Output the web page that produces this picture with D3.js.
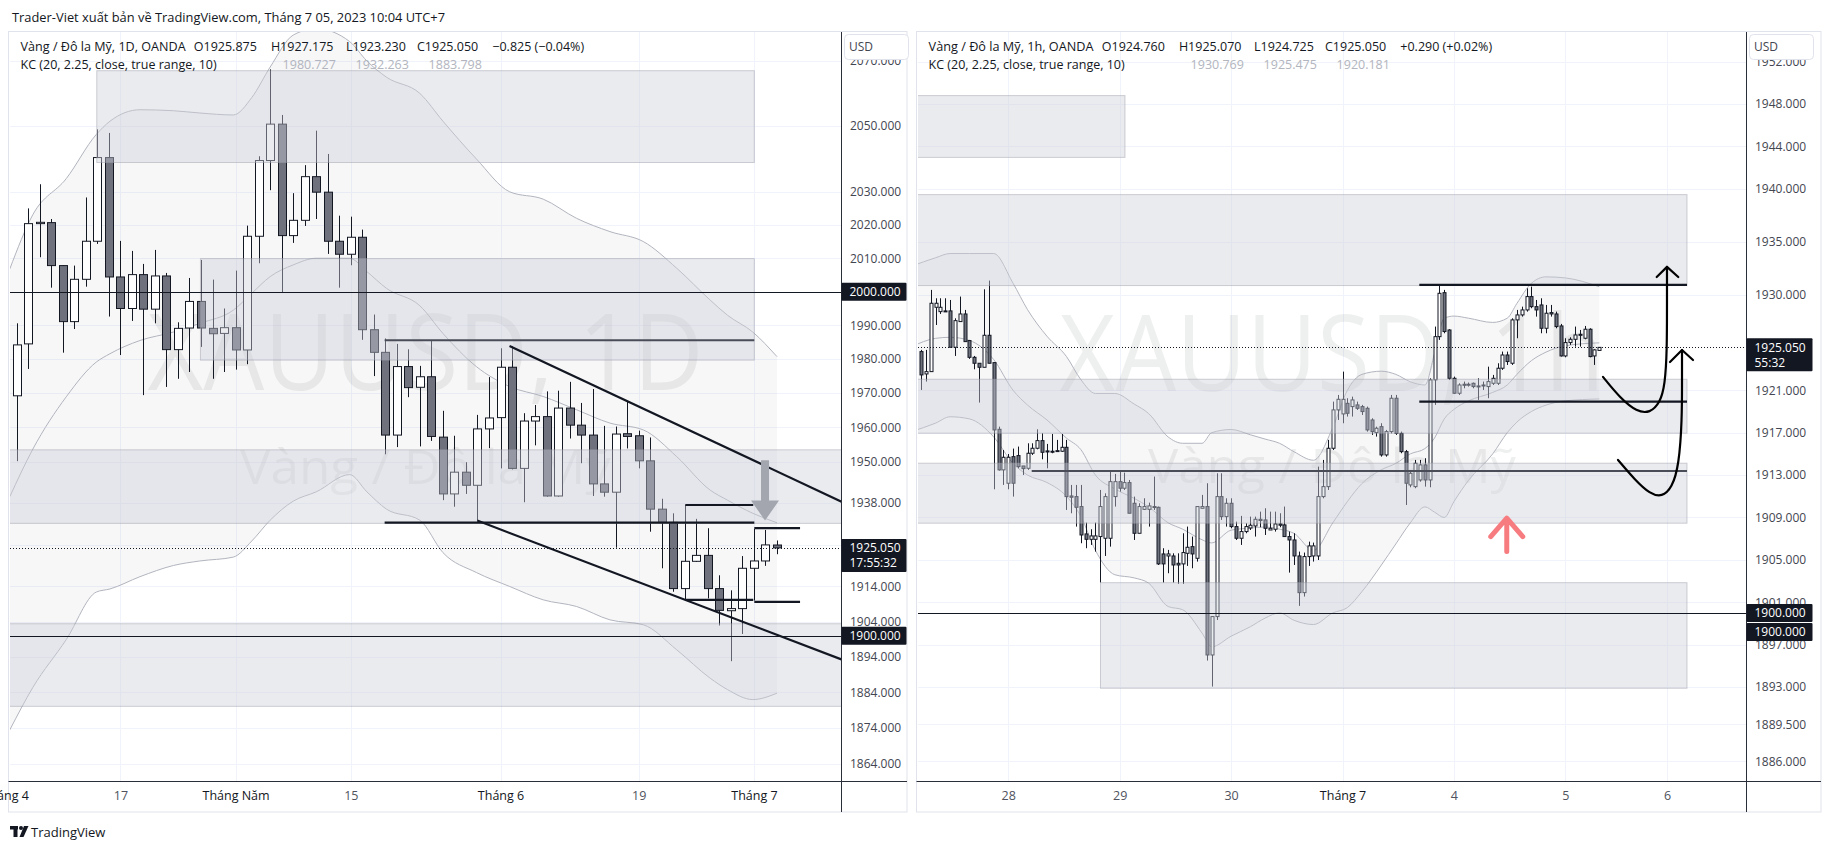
<!DOCTYPE html>
<html><head><meta charset="utf-8"><title>XAUUSD</title>
<script src="https://cdn.jsdelivr.net/npm/d3@7/dist/d3.min.js"></script>
<style>
html,body{margin:0;padding:0;background:#fff;overflow:hidden}
svg{display:block}
</style></head><body>
<svg id="chart" width="1828" height="852" xmlns="http://www.w3.org/2000/svg"></svg>
<script>
// ---------------- DATA: daily XAUUSD (left pane) ----------------
const dOpen=[1969.2,1984.5,2020.4,2020.7,2007.8,1991.1,2003.7,2015.1,2040.4,2004.4,1995.0,2005.1,1994.8,2004.7,1982.8,1989.2,1997.1,1989.1,1987.6,1989.3,1982.7,2016.6,2039.5,2050.6,2016.8,2021.4,2034.6,2029.9,2015.1,2011.2,2016.3,1988.7,1982.0,1957.7,1977.8,1971.7,1974.8,1957.1,1940.6,1946.9,1943.1,1959.5,1962.8,1977.6,1948.0,1961.8,1963.1,1940.0,1965.6,1960.6,1957.7,1943.5,1941.1,1958.1,1957.5,1950.2,1936.2,1932.4,1913.4,1921.2,1922.9,1913.4,1907.1,1907.7,1919.2,1921.3,1925.875];
const dHigh=[1990.6,2025.0,2032.3,2021.8,2007.9,2007.8,2028.3,2049.0,2047.9,2015.2,2012.2,2008.3,2012.5,2005.6,1990.9,2004.1,2009.5,2003.6,1995.0,2006.3,2019.8,2040.8,2067.4,2053.4,2029.6,2038.1,2048.6,2041.5,2022.8,2022.5,2018.6,1993.2,1986.1,1984.5,1982.9,1978.0,1985.4,1964.8,1957.5,1949.8,1963.6,1974.7,1983.2,1983.9,1964.1,1966.5,1970.5,1970.7,1973.3,1967.1,1971.2,1960.4,1960.2,1967.7,1959.0,1957.0,1939.2,1935.0,1937.4,1933.4,1930.7,1917.2,1912.9,1922.7,1930.5,1930.2,1927.175];
const dLow=[1950.1,1977.1,2010.3,2001.2,1981.9,1988.9,2001.5,2014.3,1992.6,1981.2,1991.3,1969.4,1990.6,1971.8,1974.2,1976.2,1983.6,1974.2,1976.2,1976.9,1978.5,2008.5,2030.5,1999.9,2014.6,2019.7,2021.8,2011.3,2001.2,2007.9,1985.7,1975.0,1952.1,1954.2,1968.8,1954.4,1956.0,1938.8,1936.9,1940.6,1932.9,1953.9,1948.0,1947.7,1938.2,1954.7,1939.8,1939.8,1956.7,1949.5,1940.0,1939.8,1925.1,1953.8,1948.0,1929.7,1919.2,1912.5,1910.3,1921.0,1910.6,1902.9,1892.8,1900.5,1910.0,1919.9,1923.23];
const dClose=[1984.2,2020.4,2020.8,2007.8,1991.1,2003.7,2015.1,2040.4,2004.4,1995.0,2005.1,1994.8,2004.7,1982.8,1989.1,1997.1,1989.2,1987.5,1989.3,1982.7,2016.6,2039.5,2050.6,2016.8,2021.4,2034.6,2029.9,2015.1,2011.2,2016.3,1988.7,1982.0,1957.7,1977.8,1971.6,1974.8,1957.3,1940.6,1946.9,1943.1,1959.5,1962.7,1977.6,1948.0,1961.8,1963.1,1940.0,1965.6,1960.6,1957.7,1943.5,1941.1,1958.0,1957.3,1950.2,1936.2,1932.4,1913.4,1921.2,1922.9,1913.4,1907.2,1907.7,1919.2,1921.3,1925.9,1925.05];

// Keltner channel (left) read at sample bars
const kcLIdx=[-0.6,1.4,4.3,6.9,8.1,10.7,13.6,15.9,18.8,20.4,22,24,26,28.9,30.4,32.1,35,37,39.9,42.8,45.7,48.6,51.5,54.4,57.3,60.2,61.7,63.9,66];
const kcLUp=[2006.8,2023.1,2034,2047.4,2051.5,2055,2054.7,2054,2053.4,2058.7,2068.1,2078,2080,2076,2070,2065,2060,2051.5,2040,2030,2027.8,2022,2018,2015,2007,1997.5,1993,1988,1980.727];
const kcLMid=[1939.8,1953.6,1968.9,1979.1,1981.6,1985.5,1988.0,1990.6,1994.5,1999.5,2004.5,2008,2010,2010,2006,2001,1995.8,1987.6,1977.8,1971.9,1969.0,1965.1,1961.2,1959.2,1951.4,1941.7,1938.8,1935,1932.263];
const kcLLow=[1873.5,1885.4,1898.9,1912.4,1913.3,1916.8,1920.0,1921.3,1922.4,1927.0,1933.0,1938.5,1941.2,1946.2,1941.2,1936.2,1933.0,1923.7,1918,1914.0,1910.2,1908.3,1904.5,1903.1,1896.0,1888,1884.8,1882.0,1883.798];

const leftTickVals=[2070,2050,2030,2020,2010,2000,1990,1980,1970,1960,1950,1938,1926,1914,1904,1894,1884,1874,1864];
const leftTimeIdx=[-1,9,19,29,42,54,64];
const leftTimeLabels=["Tháng 4","17","Tháng Năm","15","Tháng 6","19","Tháng 7"];

// drawings left: rectangles [i0,i1,pTop,pBottom]
const leftRects=[[6.95,64.03,2067.0,2038.9],[15.95,64.03,2009.9,1979.7],[-3,80,1953.4,1932.1],[-3,80,1903.4,1880.1]];
// trend / level segments [i0,p0,i1,p1]
const leftSegs=[[42.78,1983.9,71.6,1938.35],[39.98,1932.9,71.6,1893.3],[31.94,1932.3,64.03,1932.3],[58.04,1937.4,63.94,1937.4],[58.04,1910.2,63.94,1910.2],[64.03,1930.7,68.0,1930.7],[64.03,1909.6,68.0,1909.6]];
const leftGraySegs=[[31.94,1985.6,64.03,1985.6]];
const leftLevels=[2000,1900];
const leftArrow=[64.96,1950.4,1938.7,1932.9];

// ---------------- DATA: 1h XAUUSD (right pane) ----------------
const hOpen=[1924.65,1922.54,1922.76,1928.83,1928.42,1928.49,1928.49,1925.06,1927.48,1928.20,
1925.69,1924.11,1923.55,1923.17,1926.19,1923.61,1917.32,1913.49,1912.23,1914.74,
1914.84,1913.86,1913.64,1915.06,1915.53,1916.25,1915.28,1915.25,1915.25,1915.25,
1915.62,1911.03,1910.97,1910.03,1907.45,1906.94,1906.94,1907.20,1907.04,1907.04,
1910.97,1912.38,1911.76,1912.29,1910.34,1907.51,1909.77,1909.77,1910.03,1909.96,
1905.56,1905.37,1905.37,1904.68,1904.62,1905.62,1906.25,1905.15,1909.87,1910.03,
1896.03,1899.65,1910.97,1909.08,1910.34,1908.14,1907.04,1907.67,1908.01,1908.20,
1908.83,1908.77,1907.82,1907.89,1908.39,1908.30,1907.20,1906.88,1905.37,1901.91,
1905.31,1905.37,1905.37,1910.97,1911.91,1915.53,1919.15,1918.77,1919.77,1919.46,
1919.62,1919.46,1919.30,1918.20,1917.01,1917.57,1914.90,1917.10,1920.25,1916.94,
1915.21,1912.07,1911.91,1912.54,1913.96,1912.54,1921.98,1926.06,1930.21,1926.69,
1922.13,1920.72,1921.57,1921.50,1921.66,1921.41,1921.41,1921.35,1921.66,1921.66,
1923.08,1924.33,1923.55,1927.64,1928.11,1928.58,1929.84,1928.89,1929.05,1926.85,
1928.33,1928.20,1927.07,1924.24,1925.50,1925.81,1926.28,1925.91,1926.76,1924.24,
1924.76];
const hHigh=[1924.81,1924.81,1930.47,1929.68,1929.68,1929.68,1929.52,1927.79,1929.84,1928.58,
1925.75,1924.24,1923.55,1930.53,1931.35,1923.61,1917.57,1915.37,1914.99,1915.50,
1915.69,1913.86,1916.00,1916.00,1917.32,1916.94,1915.94,1916.88,1916.32,1916.88,
1916.32,1912.07,1912.07,1912.07,1908.52,1907.89,1908.52,1911.60,1911.28,1913.33,
1913.11,1913.33,1913.23,1912.54,1910.97,1910.34,1910.81,1910.40,1912.86,1910.03,
1906.10,1905.94,1905.62,1905.62,1907.51,1908.14,1907.20,1910.03,1911.13,1912.23,
1899.65,1913.17,1913.17,1910.81,1910.81,1908.61,1909.15,1908.45,1909.08,1909.08,
1909.55,1909.87,1909.55,1909.55,1909.40,1910.03,1907.67,1907.51,1905.78,1905.69,
1906.72,1906.63,1913.80,1914.43,1916.32,1919.93,1920.56,1922.76,1920.25,1920.40,
1919.93,1919.62,1919.46,1918.36,1917.57,1917.89,1917.26,1920.56,1920.56,1917.10,
1915.37,1913.33,1914.43,1914.43,1914.59,1922.13,1927.01,1930.94,1930.47,1926.76,
1922.29,1921.66,1921.82,1921.73,1921.73,1922.13,1921.82,1923.23,1922.45,1923.55,
1924.65,1924.65,1927.79,1928.58,1928.89,1930.62,1930.78,1929.52,1929.68,1929.05,
1929.05,1928.42,1927.26,1925.91,1926.00,1927.01,1926.69,1927.07,1926.85,1924.87,
1925.07];
const hLow=[1921.03,1921.82,1922.76,1927.16,1928.20,1928.42,1925.06,1924.24,1927.48,1925.59,
1923.96,1922.98,1919.84,1923.17,1923.55,1911.66,1913.42,1912.07,1911.66,1910.97,
1913.64,1913.01,1913.49,1914.90,1915.43,1914.49,1913.64,1915.06,1915.21,1915.18,
1909.71,1909.40,1908.14,1906.57,1906.10,1906.41,1905.78,1902.86,1905.37,1906.25,
1910.03,1911.44,1911.60,1909.40,1906.88,1907.51,1909.71,1908.14,1909.71,1904.52,
1902.86,1903.74,1902.86,1902.73,1902.73,1904.43,1904.21,1904.84,1909.87,1895.50,
1893.05,1899.33,1908.77,1908.14,1907.98,1906.88,1906.41,1907.51,1907.82,1907.20,
1908.08,1907.35,1907.82,1907.67,1908.08,1907.20,1903.80,1904.52,1900.66,1901.54,
1904.43,1904.84,1904.99,1910.81,1911.60,1915.37,1918.20,1917.89,1918.52,1918.52,
1919.15,1918.67,1917.10,1916.79,1916.63,1914.74,1914.74,1916.94,1916.79,1915.06,
1910.18,1911.85,1911.76,1912.38,1911.91,1911.85,1919.62,1925.75,1926.38,1921.98,
1920.66,1920.56,1921.19,1921.35,1921.19,1920.09,1921.03,1920.25,1921.50,1921.50,
1922.92,1923.39,1923.39,1925.91,1927.95,1928.42,1928.74,1927.95,1926.38,1926.38,
1927.95,1926.85,1924.18,1924.11,1925.28,1925.12,1925.12,1925.81,1924.11,1923.39,
1924.725];
const hClose=[1922.45,1922.76,1929.21,1929.21,1928.83,1928.42,1925.06,1927.57,1928.20,1925.59,
1924.11,1923.55,1923.17,1926.19,1923.55,1917.26,1913.49,1914.68,1914.68,1912.23,
1913.80,1913.61,1915.06,1915.53,1916.25,1915.15,1915.18,1915.18,1915.31,1915.62,
1910.97,1910.91,1909.96,1907.35,1906.94,1907.26,1907.26,1910.03,1910.97,1912.38,
1912.38,1911.76,1912.29,1909.40,1907.51,1910.03,1910.03,1910.09,1909.96,1904.62,
1904.62,1905.56,1904.52,1904.52,1905.69,1906.19,1905.56,1910.03,1910.03,1896.03,
1899.65,1910.97,1909.08,1910.34,1908.14,1907.04,1907.67,1908.14,1908.27,1908.83,
1908.71,1907.98,1907.98,1908.39,1908.27,1907.20,1906.88,1905.37,1901.91,1905.31,
1906.32,1906.32,1910.97,1911.91,1915.53,1919.15,1920.15,1920.15,1918.83,1920.09,
1919.30,1918.99,1917.26,1917.10,1917.42,1914.90,1917.10,1920.25,1916.94,1915.21,
1912.23,1913.17,1914.11,1913.96,1912.54,1921.98,1926.06,1930.15,1926.54,1922.13,
1920.72,1921.50,1921.47,1921.57,1921.35,1921.32,1921.50,1921.82,1922.13,1923.08,
1924.33,1923.71,1927.64,1928.11,1928.58,1929.84,1928.89,1928.58,1926.85,1928.27,
1928.20,1927.01,1924.24,1925.50,1925.81,1926.22,1926.19,1926.76,1924.18,1924.81,
1925.05];

const kcRIdx=[-2,3,6,10,15,19,22,26,30,33,36,40,44,47,51,54,58,60,64,68,71,74,77,81,85,88,91,95,98,101,104,106,108,110,113,118,121,123,126,129,133,140];
const kcRUp=[1932.7,1933.5,1933.9,1933.9,1933.9,1931.1,1928.6,1926.1,1924.2,1922.0,1920.7,1920.7,1919.7,1918.8,1916.6,1916.0,1916.0,1917.0,1917.3,1916.8,1916.4,1916.0,1915.2,1914.4,1917.5,1921.0,1922.5,1922.8,1922.5,1921.8,1921.5,1924.5,1927.8,1928.0,1927.8,1927.4,1927.8,1929.2,1931.1,1931.7,1931.6,1930.769];
const kcRMid=[1925.1,1925.9,1926.0,1925.7,1923.9,1921.0,1919.6,1918.2,1916.5,1915.4,1913.0,1911.7,1910.8,1910.0,1908.5,1907.9,1906.9,1906.6,1907.8,1908.0,1908.1,1907.9,1907.5,1905.9,1908.5,1910.5,1912.2,1913.5,1914.1,1915.0,1915.5,1916.5,1918.3,1919.2,1920.0,1920.8,1921.5,1922.5,1923.8,1924.6,1925.2,1925.475];
const kcRLow=[1917.1,1917.9,1918.5,1918.3,1916.6,1914.1,1913.0,1912.3,1911.0,1909.1,1905.9,1903.6,1903.3,1902.8,1900.6,1900.3,1898.1,1896.8,1897.8,1898.7,1899.5,1900.0,1899.3,1898.9,1900.0,1900.5,1902.0,1904.5,1906.5,1908.5,1910.0,1909.5,1909.0,1910.5,1912.5,1915.0,1917.0,1918.0,1919.0,1919.6,1920.0,1920.181];

const rightTickVals=[1952,1948,1944,1940,1935,1930,1921,1917,1913,1909,1905,1901,1897,1893,1889.5,1886];
const rightTimeIdx=[18,41,64,87,110,133,154];
const rightTimeLabels=["28","29","30","Tháng 7","4","5","6"];

const rightRects=[[-3,42.1,1948.8,1942.97],[-3,158.1,1939.46,1930.88],[-3,158.1,1922.04,1916.95],[-3,158.1,1914.12,1908.46],[37.05,158.1,1902.85,1892.89]];
const rightSegs=[[102.85,1930.94,158.1,1930.94],[102.85,1919.93,158.1,1919.93]];
const rightGraySegs=[[22.85,1913.39,158.1,1913.39]];
const rightLevels=[1900];
const arrow1Idx=[140.76,144.27,147.78,150.46,152.53,153.56,153.97,153.97,153.97];
const arrow1Px=[1922.26,1920.28,1918.96,1918.86,1919.81,1921.50,1924.80,1929.52,1932.64];
const arrow1Head=[[151.85,1931.69],[153.97,1932.64],[156.30,1931.69]];
const arrow2Idx=[143.86,147.37,150.46,152.94,155.01,156.45,157.07,157.07,157.07];
const arrow2Px=[1914.43,1912.54,1911.22,1910.94,1911.79,1913.96,1918.20,1921.97,1924.80];
const arrow2Head=[[154.59,1923.67],[157.07,1924.80],[159.34,1923.86]];
const redArrow=[120.9,1905.78,1908.93,1907.19];

const lastPrice=1925.05;

// ---------------- RENDER ----------------
const FONT='"Open Sans","Noto Sans","DejaVu Sans",sans-serif';
const INK='#131722';
const svg=d3.select('#chart').style('font-family',FONT);
const defs=svg.append('defs');
svg.append('rect').attr('width',1828).attr('height',852).attr('fill','#fff');

const leftX=d3.scaleLinear().domain([0,66]).range([16.7,777]);
const leftY=d3.scaleLog().domain([1859.29,2078.96]).range([781,32]);
const rightX=d3.scaleLinear().domain([0,140]).range([921,1599.3]);
const rightY=d3.scaleLinear().domain([1884.14,1954.80]).range([781,32]);

function drawPane(o){
  const {id,x0,x1,y0,y1,ax1,x,y}=o;
  // frame
  svg.append('rect').attr('x',x0-1.5).attr('y',y0-0.5).attr('width',ax1-x0+1.5).attr('height',812-y0+0.5)
    .attr('fill','none').attr('stroke','#e0e3eb');
  defs.append('clipPath').attr('id',id+'c').append('rect').attr('x',x0).attr('y',y0).attr('width',x1-x0).attr('height',y1-y0);
  const g=svg.append('g').attr('clip-path',`url(#${id}c)`);
  // grid
  g.selectAll('line.h').data(o.ticks).join('line').attr('class','h')
    .attr('x1',x0).attr('x2',x1).attr('y1',d=>Math.round(y(d))+0.5).attr('y2',d=>Math.round(y(d))+0.5)
    .attr('stroke','#f0f3fa');
  g.selectAll('line.v').data(o.timeIdx).join('line').attr('class','v')
    .attr('y1',y0).attr('y2',y1).attr('x1',d=>Math.round(x(d))+0.5).attr('x2',d=>Math.round(x(d))+0.5)
    .attr('stroke','#f0f3fa');
  // watermark
  const cx=(x0+x1)/2;
  g.append('text').attr('x',cx).attr('y',o.wm1y).attr('text-anchor','middle').attr('font-size',107)
    .attr('fill','rgba(19,23,34,0.07)').attr('textLength',o.wm1w).attr('lengthAdjust','spacingAndGlyphs').text(o.wm1);
  g.append('text').attr('x',cx).attr('y',o.wm2y).attr('text-anchor','middle').attr('font-size',48)
    .attr('fill','rgba(19,23,34,0.07)').attr('textLength',o.wm2w).attr('lengthAdjust','spacingAndGlyphs').text('Vàng / Đô la Mỹ');
  // KC
  const kc=o.kc;
  const ks=d3.range(kc.idx.length);
  g.append('path').datum(ks).attr('fill','rgba(120,123,134,0.06)')
    .attr('d',d3.area().curve(d3.curveMonotoneX).x(i=>x(kc.idx[i])).y0(i=>y(kc.low[i])).y1(i=>y(kc.up[i])));
  [kc.up,kc.mid,kc.low].forEach(arr=>{
    g.append('path').datum(ks).attr('fill','none').attr('stroke','#b2b5be').attr('stroke-width',1)
      .attr('d',d3.line().curve(d3.curveMonotoneX).x(i=>x(kc.idx[i])).y(i=>y(arr[i])));
  });
  // candles
  const idx=d3.range(o.O.length);
  const cg=g.append('g');
  cg.selectAll('line').data(idx).join('line')
    .attr('x1',i=>Math.round(x(i))+0.5).attr('x2',i=>Math.round(x(i))+0.5)
    .attr('y1',i=>y(o.H[i])).attr('y2',i=>y(o.L[i])).attr('stroke',INK).attr('stroke-width',1);
  cg.selectAll('rect').data(idx).join('rect')
    .attr('x',i=>Math.round(x(i))-o.bw/2+0.5).attr('width',o.bw)
    .attr('y',i=>y(Math.max(o.O[i],o.C[i])))
    .attr('height',i=>Math.max(1,Math.abs(y(o.O[i])-y(o.C[i]))))
    .attr('fill',i=>o.C[i]>=o.O[i]?'#ffffff':'#6f727d').attr('stroke',INK).attr('stroke-width',1);
  // rectangles (drawings above series)
  g.selectAll('rect.dr').data(o.rects).join('rect').attr('class','dr')
    .attr('x',d=>x(d[0])).attr('width',d=>x(d[1])-x(d[0]))
    .attr('y',d=>y(d[2])).attr('height',d=>y(d[3])-y(d[2]))
    .attr('fill','rgba(205,208,216,0.42)').attr('stroke','rgba(150,153,165,0.45)').attr('stroke-width',1);
  // full-width levels
  o.levels.forEach(p=>{
    g.append('line').attr('x1',x0).attr('x2',x1).attr('y1',Math.round(y(p))+0.5).attr('y2',Math.round(y(p))+0.5)
      .attr('stroke',INK).attr('stroke-width',1);
  });
  o.graySegs.forEach(s=>{
    g.append('line').attr('x1',x(s[0])).attr('y1',y(s[1])).attr('x2',x(s[2])).attr('y2',y(s[3]))
      .attr('stroke','#4a4d57').attr('stroke-width',2);
  });
  o.segs.forEach(s=>{
    g.append('line').attr('x1',x(s[0])).attr('y1',y(s[1])).attr('x2',x(s[2])).attr('y2',y(s[3]))
      .attr('stroke',INK).attr('stroke-width',2.2);
  });
  // last price dotted line
  g.append('line').attr('x1',x0).attr('x2',x1).attr('y1',Math.round(y(lastPrice))+0.5).attr('y2',Math.round(y(lastPrice))+0.5)
    .attr('stroke',INK).attr('stroke-width',1).attr('stroke-dasharray','1,2');
  o.extra && o.extra(g);

  // separators
  svg.append('line').attr('x1',x1+0.5).attr('x2',x1+0.5).attr('y1',y0).attr('y2',812).attr('stroke','#2a2e39');
  svg.append('line').attr('x1',x0-1.5).attr('x2',ax1).attr('y1',y1+0.5).attr('y2',y1+0.5).attr('stroke','#2a2e39');

  // price axis
  const pa=svg.append('g').attr('transform',`translate(${x1},0)`)
    .call(d3.axisRight(y).tickValues(o.ticks).tickFormat(d3.format('.3f')).tickSize(0).tickPadding(9));
  pa.select('.domain').remove();
  pa.selectAll('text').attr('font-family',FONT).attr('font-size',12).attr('fill','#434651');
  // time axis
  const ta=svg.append('g').attr('transform',`translate(0,${y1})`)
    .call(d3.axisBottom(x).tickValues(o.timeIdx).tickFormat((d,i)=>o.timeLabels[i]).tickSize(0).tickPadding(10));
  ta.select('.domain').remove();
  ta.selectAll('text').attr('font-family',FONT).attr('font-size',12.5)
    .attr('fill',(d,i)=>/Tháng/.test(o.timeLabels[i])?INK:'#50535e');

  // price labels (black boxes)
  const bx=x1+0.5, bw=o.boxW;
  o.boxes.forEach(b=>{
    const yy=y(b.p)+(b.dy||0);
    const h=b.sub?33:18;
    svg.append('rect').attr('x',bx).attr('y',yy-9).attr('width',bw).attr('height',h).attr('fill',INK).attr('rx',1);
    svg.append('text').attr('x',bx+8).attr('y',yy).attr('dy','0.35em').attr('font-size',12).attr('fill','#fff')
      .attr('font-family',FONT).text(b.t);
    if(b.sub) svg.append('text').attr('x',bx+8).attr('y',yy+15).attr('dy','0.35em').attr('font-size',12).attr('fill','#fff')
      .attr('font-family',FONT).text(b.sub);
  });
  // USD button
  svg.append('rect').attr('x',x1+3.5).attr('y',34.5).attr('width',64).attr('height',25).attr('rx',4)
    .attr('fill','#fff').attr('stroke','#e0e3eb');
  svg.append('text').attr('x',x1+8).attr('y',47).attr('dy','0.35em').attr('font-size',12).attr('fill','#434651').text('USD');

  // legend
  const lg=svg.append('g').attr('font-size',12.5).attr('fill',INK);
  const lx=x0+10.6;
  const seg1=[[0,o.leg1[0],165],[173.2,o.leg1[1]],[250.3,o.leg1[2]],[325.4,o.leg1[3]],[396.4,o.leg1[4]],[471.7,o.leg1[5]]];
  seg1.forEach(s=>{
    const t=lg.append('text').attr('x',lx+s[0]).attr('y',47).attr('dy','0.35em').text(s[1]);
    if(s[2]) t.attr('textLength',s[2]).attr('lengthAdjust','spacingAndGlyphs');
  });
  lg.append('text').attr('x',lx).attr('y',65).attr('dy','0.35em').text('KC (20, 2.25, close, true range, 10)');
  o.kcVals.forEach((v,i)=>lg.append('text').attr('x',lx+262+i*73).attr('y',65).attr('dy','0.35em').attr('fill','#b2b5be').text(v));
}

drawPane({id:'L',x0:10,x1:841,y0:32,y1:781,ax1:907,x:leftX,y:leftY,
  ticks:leftTickVals,timeIdx:leftTimeIdx,timeLabels:leftTimeLabels,
  wm1:'XAUUSD, 1D',wm1y:390,wm1w:556,wm2y:484,wm2w:371,
  kc:{idx:kcLIdx,up:kcLUp,mid:kcLMid,low:kcLLow},
  O:dOpen,H:dHigh,L:dLow,C:dClose,bw:8,
  rects:leftRects,levels:leftLevels,segs:leftSegs,graySegs:leftGraySegs,
  boxW:65,
  boxes:[{p:2000,t:'2000.000'},{p:lastPrice,t:'1925.050',sub:'17:55:32'},{p:1900,t:'1900.000'}],
  leg1:['Vàng / Đô la Mỹ, 1D, OANDA','O1925.875','H1927.175','L1923.230','C1925.050','−0.825 (−0.04%)'],
  kcVals:['1980.727','1932.263','1883.798'],
  extra:g=>{
    const ax=leftX(leftArrow[0]);
    const yT=leftY(leftArrow[1]), yH=leftY(leftArrow[2]), yTip=leftY(leftArrow[3]);
    g.append('path').attr('fill','#a3a6af')
      .attr('d',`M${ax-4},${yT}L${ax+4},${yT}L${ax+4},${yH}L${ax+14},${yH}L${ax},${yTip}L${ax-14},${yH}L${ax-4},${yH}Z`);
  }
});

drawPane({id:'R',x0:918,x1:1746,y0:32,y1:781,ax1:1821,x:rightX,y:rightY,
  ticks:rightTickVals,timeIdx:rightTimeIdx,timeLabels:rightTimeLabels,
  wm1:'XAUUSD, 1h',wm1y:391,wm1w:545,wm2y:483,wm2w:368,
  kc:{idx:kcRIdx,up:kcRUp,mid:kcRMid,low:kcRLow},
  O:hOpen,H:hHigh,L:hLow,C:hClose,bw:3,
  rects:rightRects,levels:rightLevels,segs:rightSegs,graySegs:rightGraySegs,
  boxW:66,
  boxes:[{p:lastPrice,t:'1925.050',sub:'55:32'},{p:1900,t:'1900.000'},{p:1900,dy:19,t:'1900.000'}],
  leg1:['Vàng / Đô la Mỹ, 1h, OANDA','O1924.760','H1925.070','L1924.725','C1925.050','+0.290 (+0.02%)'],
  kcVals:['1930.769','1925.475','1920.181'],
  extra:g=>{
    const ln=d3.line().curve(d3.curveBasis);
    const a1=arrow1Idx.map((d,i)=>[rightX(d),rightY(arrow1Px[i])]);
    const a2=arrow2Idx.map((d,i)=>[rightX(d),rightY(arrow2Px[i])]);
    [a1,a2].forEach(a=>g.append('path').attr('d',ln(a)).attr('fill','none').attr('stroke','#000').attr('stroke-width',2.2).attr('stroke-linecap','round'));
    [arrow1Head,arrow2Head].forEach(h=>g.append('path').attr('d',d3.line()(h.map(p=>[rightX(p[0]),rightY(p[1])])))
      .attr('fill','none').attr('stroke','#000').attr('stroke-width',2.2).attr('stroke-linecap','round').attr('stroke-linejoin','round'));
    const rx=rightX(redArrow[0]);
    g.append('path').attr('d',`M${rx},${rightY(redArrow[1])}L${rx},${rightY(redArrow[2])}M${rx-16},${rightY(redArrow[3])}L${rx},${rightY(redArrow[2])}L${rx+16},${rightY(redArrow[3])}`)
      .attr('fill','none').attr('stroke','#f77c80').attr('stroke-width',5).attr('stroke-linecap','round').attr('stroke-linejoin','round');
  }
});

// title
svg.append('text').attr('x',12).attr('y',17.5).attr('dy','0.35em').attr('font-size',12.5).attr('fill',INK)
  .attr('textLength',433).attr('lengthAdjust','spacingAndGlyphs')
  .text('Trader-Viet xuất bản về TradingView.com, Tháng 7 05, 2023 10:04 UTC+7');
// TradingView logo
const lgo=svg.append('g').attr('fill',INK);
lgo.append('rect').attr('x',10).attr('y',826).attr('width',8).attr('height',3.5);
lgo.append('rect').attr('x',13.5).attr('y',826).attr('width',4).attr('height',11);
lgo.append('circle').attr('cx',21).attr('cy',828).attr('r',2);
lgo.append('path').attr('d','M24,826L28.5,826L23.5,837L19.5,837Z');
svg.append('text').attr('x',31).attr('y',832).attr('dy','0.35em').attr('font-size',13).attr('fill',INK).text('TradingView');
</script></body></html>
